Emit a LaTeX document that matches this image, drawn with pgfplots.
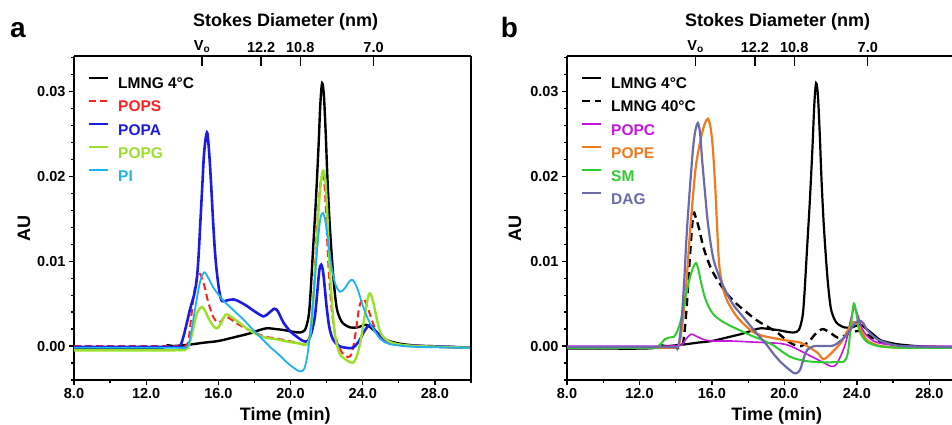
\documentclass[border=0pt]{standalone}
\usepackage{fontspec}
\setmainfont{Liberation Sans}
\usepackage{pgfplots}
\usepackage{pgfplotstable}
\pgfplotsset{compat=1.18}

\definecolor{popsred}{HTML}{FF2020}
\definecolor{popablue}{HTML}{1C1CE0}
\definecolor{popggreen}{HTML}{9AE02A}
\definecolor{picyan}{HTML}{1EB1F0}
\definecolor{popcmag}{HTML}{C814E0}
\definecolor{popeorange}{HTML}{F07A1E}
\definecolor{smgreen}{HTML}{2ECC2E}
\definecolor{dagslate}{HTML}{6B6BAA}

% LMNG 4C, same run in both panels
\pgfplotstableread{
t v
8 -0.0003
10 -0.0003
12 -0.0003
12.9 -0.0002
13.2 0.0001
13.5 0.0
14.5 0.0002
15.2 0.0004
16 0.0006
17 0.0011
17.75 0.0015
18.3 0.0019
18.7 0.0021
19.2 0.0020
19.6 0.0019
20.1 0.0017
20.5 0.0016
20.8 0.0019
21.0 0.0035
21.1 0.006
21.25 0.0115
21.4 0.017
21.55 0.0235
21.65 0.0285
21.75 0.031
21.85 0.0295
21.95 0.025
22.05 0.0195
22.18 0.014
22.37 0.0082
22.55 0.0046
22.75 0.0032
22.95 0.0026
23.3 0.0022
23.7 0.0022
24.2 0.0025
24.6 0.0019
25.0 0.0012
25.3 0.0007
25.8 0.0004
26.3 0.0002
27.3 0.0
28.5 -0.0001
30 -0.0002
}\lmngfour

\pgfplotsset{
  chrom/.style={
    scale only axis, height=324pt,
    xmin=8, ymin=-0.004, ymax=0.0342,
    axis x line*=bottom, axis y line*=left,
    axis line style={line width=1.6pt,-},
    tick align=outside, major tick length=5pt, minor tick length=3pt,
    every tick/.style={black, line width=1.3pt},
    xtick={8,12,16,20,24,28}, xticklabels={8.0,12.0,16.0,20.0,24.0,28.0},
    minor xtick={10,14,18,22,26,30},
    ytick={0,0.01,0.02,0.03}, yticklabels={0.00,0.01,0.02,0.03},
    minor ytick={-0.004,-0.002,0.002,0.004,0.006,0.008,0.012,0.014,0.016,0.018,0.022,0.024,0.026,0.028,0.032,0.034},
    scaled y ticks=false,
    tick label style={font=\fontsize{14.5}{16}\selectfont\bfseries},
    xlabel={Time (min)}, ylabel={AU},
    label style={font=\fontsize{18}{20}\selectfont\bfseries},
    legend style={draw=none, fill=none, at={(0,1)}, anchor=north west,
      xshift=14pt, yshift=-20.5pt, inner sep=0pt, row sep=10.8pt,
      font=\fontsize{15.5}{17}\selectfont\bfseries,
      nodes={inner sep=0pt, text height=11.3pt, text depth=0pt},
      /tikz/every odd column/.append style={column sep=9pt}},
    legend cell align=left,
    legend image code/.code={\draw[#1, line width=2pt] (0pt,5.6pt) -- (19pt,5.6pt);},
    every axis plot/.append style={smooth, tension=0.5},
  },
  stokes/.style={
    scale only axis, height=324pt,
    xmin=8, ymin=-0.004, ymax=0.0342,
    axis x line*=top,
    axis line style={line width=1.6pt,-},
    tick align=inside, major tick length=10pt,
    every tick/.style={black, line width=1.3pt},
    xtick={15.1,18.37,20.54,24.6}, xticklabels={V\textsubscript{o},12.2,10.8,7.0},
    ytick=\empty,
    tick label style={font=\fontsize{14.5}{16}\selectfont\bfseries},
    xlabel={Stokes Diameter (nm)},
    label style={font=\fontsize{18}{20}\selectfont\bfseries},
  },
}

\begin{document}
\begin{tikzpicture}
\useasboundingbox (0,0) rectangle (952pt,425pt);

% ---------------- panel a ----------------
\begin{axis}[chrom, at={(74pt,45pt)}, anchor=south west, width=397pt, xmax=30,
  xlabel style={at={([yshift=-36pt]axis description cs:0.532,0)}, anchor=center},
  ylabel style={at={([xshift=-50pt]axis description cs:0,0.469)}, anchor=center}]
\addplot[black, line width=2.4pt] table {\lmngfour};
\addlegendentry{LMNG 4°C}
\addplot[popsred, line width=2pt, dash pattern=on 7pt off 4pt] coordinates {
(8,0.0) (13.5,0.0) (14.2,0.0) (14.35,0.0008) (14.5,0.0035) (14.65,0.0062) (14.8,0.0080) (14.95,0.0086) (15.1,0.0080) (15.26,0.0068) (15.4,0.0055) (15.55,0.0044) (15.75,0.0033) (15.95,0.0028) (16.15,0.0029) (16.37,0.0035) (16.6,0.0033) (17.0,0.0027) (17.5,0.0021) (18.1,0.0015) (18.6,0.0011) (19.2,0.0009) (19.9,0.0006) (20.5,0.0003) (20.95,0.0003) (21.15,0.0025) (21.3,0.0070) (21.45,0.0133) (21.6,0.0180) (21.7,0.0198) (21.8,0.0200) (21.9,0.0185) (22.0,0.0140) (22.1,0.0095) (22.25,0.0050) (22.4,0.0022) (22.6,0.0003) (22.9,-0.0009) (23.2,-0.0013) (23.4,-0.0008) (23.6,0.0015) (23.8,0.0045) (24.0,0.0056) (24.2,0.0050) (24.5,0.0031) (24.8,0.0015) (25.13,0.0007) (25.6,0.0003) (26.5,0.0001) (28,0.0) (30,-0.0002)};
\addlegendentry{\textcolor{popsred}{POPS}}
\addplot[popablue, line width=2.6pt] coordinates {
(8,-0.0001) (13.5,-0.0001) (13.85,-0.0001) (14.05,0.0010) (14.25,0.0027) (14.45,0.0045) (14.65,0.006) (14.8,0.0078) (14.9,0.0105) (15.0,0.0145) (15.1,0.0185) (15.2,0.0225) (15.3,0.0245) (15.39,0.0251) (15.5,0.0225) (15.6,0.019) (15.7,0.015) (15.8,0.0115) (15.9,0.0090) (16.05,0.0065) (16.2,0.0053) (16.5,0.0054) (16.85,0.0055) (17.2,0.0052) (17.6,0.0047) (18.0,0.0041) (18.5,0.0035) (18.8,0.0039) (19.1,0.0044) (19.3,0.0041) (19.6,0.0028) (20.0,0.0017) (20.35,0.0011) (20.7,0.0006) (20.95,0.0006) (21.15,0.0015) (21.35,0.0035) (21.5,0.0068) (21.6,0.0090) (21.7,0.0096) (21.8,0.0088) (21.9,0.0068) (22.0,0.0046) (22.15,0.0022) (22.35,0.0008) (22.7,0.0000) (23.1,-0.0002) (23.45,-0.0002) (23.8,0.0006) (24.1,0.0018) (24.4,0.0025) (24.7,0.0018) (25.1,0.0010) (25.5,0.0005) (26.2,0.0001) (27.5,0.0) (29,-0.0001) (30,-0.0002)};
\addlegendentry{\textcolor{popablue}{POPA}}
\addplot[popggreen, line width=2.4pt] coordinates {
(8,-0.0005) (13.5,-0.0005) (14.2,-0.0004) (14.4,0.0003) (14.6,0.0020) (14.8,0.0038) (15.0,0.0045) (15.1,0.0046) (15.25,0.0042) (15.5,0.0031) (15.75,0.0023) (15.95,0.0021) (16.15,0.0027) (16.4,0.0037) (16.6,0.0036) (17.0,0.0030) (17.5,0.0022) (18.1,0.0014) (18.6,0.0010) (19.2,0.0008) (19.9,0.0005) (20.5,0.0003) (20.9,0.0002) (21.1,0.0015) (21.3,0.0065) (21.45,0.0120) (21.6,0.0175) (21.75,0.0203) (21.85,0.0206) (21.95,0.0190) (22.05,0.0150) (22.15,0.0100) (22.3,0.0050) (22.45,0.0015) (22.7,-0.0008) (23.0,-0.0015) (23.3,-0.0019) (23.5,-0.0019) (23.7,-0.0010) (23.9,0.0008) (24.1,0.0035) (24.3,0.0058) (24.43,0.0062) (24.6,0.0050) (24.8,0.0030) (25.0,0.0015) (25.4,0.0006) (26,0.0002) (27,0.0) (30,-0.0002)};
\addlegendentry{\textcolor{popggreen}{POPG}}
\addplot[picyan, line width=1.8pt] coordinates {
(8,-0.0002) (13.5,-0.0002) (14.2,-0.0002) (14.4,0.0006) (14.6,0.0030) (14.8,0.0055) (15.0,0.0077) (15.22,0.0087) (15.45,0.0080) (15.75,0.0068) (16.0,0.0061) (16.3,0.0053) (16.8,0.0043) (17.4,0.0031) (17.93,0.0019) (18.4,0.0009) (18.86,-0.0001) (19.3,-0.0009) (19.78,-0.0019) (20.2,-0.0026) (20.52,-0.0030) (20.75,-0.0027) (20.9,-0.0015) (21.05,0.0008) (21.2,0.0040) (21.35,0.0080) (21.5,0.0120) (21.65,0.0150) (21.8,0.0157) (21.95,0.0145) (22.1,0.0120) (22.3,0.0090) (22.5,0.0072) (22.74,0.0064) (23.0,0.0068) (23.25,0.0076) (23.44,0.0078) (23.7,0.0068) (24.03,0.0046) (24.4,0.0027) (24.95,0.0009) (25.4,0.0003) (25.88,0.0001) (27,-0.0001) (30,-0.0002)};
\addlegendentry{\textcolor{picyan}{PI}}
\end{axis}
\begin{axis}[stokes, at={(74pt,45pt)}, anchor=south west, width=397pt, xmax=30,
  axis y line*=right,
  xlabel style={at={([yshift=34pt]axis description cs:0.533,1)}, anchor=center}]
\end{axis}

% ---------------- panel b ----------------
\begin{axis}[chrom, at={(567pt,45pt)}, anchor=south west, width=385pt, xmax=29.25,
  xlabel style={at={([yshift=-36pt]axis description cs:0.545,0)}, anchor=center},
  ylabel style={at={([xshift=-52pt]axis description cs:0,0.469)}, anchor=center}]
\addplot[black, line width=2.2pt] table {\lmngfour};
\addlegendentry{LMNG 4°C}
\addplot[black, line width=2.4pt, dash pattern=on 8pt off 5pt] coordinates {
(8,-0.0002) (13.5,-0.0002) (14.3,-0.0001) (14.45,0.0010) (14.6,0.0045) (14.75,0.0095) (14.9,0.0140) (15.0,0.0157) (15.1,0.0152) (15.27,0.0140) (15.55,0.0115) (15.92,0.0093) (16.3,0.0078) (16.85,0.0061) (17.4,0.0049) (17.96,0.0039) (18.5,0.0030) (19.06,0.0023) (19.6,0.0016) (20.17,0.0006) (20.6,0.0001) (20.9,0.0000) (21.3,0.0004) (21.7,0.0014) (22.1,0.0020) (22.5,0.0016) (22.94,0.0010) (23.3,0.0012) (23.68,0.0016) (24.2,0.0018) (24.6,0.0013) (25.0,0.0008) (25.5,0.0004) (26.5,0.0001) (27.4,-0.0001) (29.3,-0.0002)};
\addlegendentry{LMNG 40°C}
\addplot[popcmag, line width=1.6pt] coordinates {
(8,0.0) (13.5,0.0) (14.3,0.0001) (14.55,0.0008) (14.85,0.0014) (15.1,0.0012) (15.5,0.0008) (16.0,0.0006) (17.0,0.0006) (18.0,0.0005) (19.0,0.0004) (19.8,0.0003) (20.2,0.0001) (20.55,-0.0002) (21.1,-0.0008) (21.65,-0.0014) (22.2,-0.0020) (22.6,-0.0024) (22.85,-0.0022) (23.1,-0.0012) (23.4,0.0005) (23.65,0.0030) (23.86,0.0045) (24.05,0.0036) (24.3,0.0020) (24.7,0.0009) (25.16,0.0004) (26,0.0001) (27,0.0) (29.3,0.0)};
\addlegendentry{\textcolor{popcmag}{POPC}}
\addplot[popeorange, line width=2.2pt] coordinates {
(8,-0.0002) (13.5,-0.0002) (14.1,-0.0001) (14.3,0.0015) (14.54,0.0061) (14.81,0.0140) (15.09,0.0208) (15.37,0.0243) (15.6,0.0262) (15.78,0.0268) (15.92,0.0258) (16.05,0.0233) (16.2,0.0180) (16.38,0.0101) (16.55,0.0075) (16.75,0.0058) (17.0,0.0047) (17.4,0.0034) (17.9,0.0023) (18.32,0.0016) (18.8,0.0012) (19.25,0.0010) (20.0,0.0007) (20.9,0.0004) (21.4,-0.0002) (21.83,-0.0008) (22.11,-0.0015) (22.3,-0.0014) (22.7,-0.0006) (23.12,0.0004) (23.45,0.0017) (23.77,0.0028) (24.0,0.0027) (24.14,0.0022) (24.4,0.0012) (24.6,0.0006) (25.0,0.0002) (25.34,0.0) (26.5,-0.0002) (29.3,-0.0002)};
\addlegendentry{\textcolor{popeorange}{POPE}}
\addplot[smgreen, line width=2pt] coordinates {
(8,-0.0002) (12.8,-0.0002) (13.1,0.0001) (13.4,0.0008) (13.6,0.0010) (13.9,0.0011) (14.1,0.0018) (14.3,0.0032) (14.54,0.0057) (14.75,0.0078) (14.95,0.0092) (15.12,0.0098) (15.25,0.0090) (15.4,0.0075) (15.6,0.0058) (15.8,0.0047) (16.1,0.0037) (16.5,0.0030) (17.0,0.0024) (17.6,0.0018) (18.2,0.0012) (18.7,0.0008) (19.1,0.0004) (19.45,0.0000) (19.9,-0.0007) (20.35,-0.0013) (20.8,-0.0016) (21.3,-0.0018) (22.0,-0.0019) (22.75,-0.0019) (23.3,-0.0018) (23.5,-0.0008) (23.65,0.0020) (23.83,0.0050) (24.0,0.0035) (24.14,0.0018) (24.5,0.0006) (25.16,0.0) (26.4,-0.0002) (29.3,-0.0002)};
\addlegendentry{\textcolor{smgreen}{SM}}
\addplot[dagslate, line width=2.2pt] coordinates {
(8,-0.0001) (13.5,-0.0001) (14.1,-0.0001) (14.3,0.0025) (14.45,0.0070) (14.63,0.0140) (14.9,0.0219) (15.05,0.0250) (15.22,0.0263) (15.35,0.0250) (15.46,0.0219) (15.6,0.0185) (15.74,0.0152) (15.9,0.0125) (16.1,0.0101) (16.45,0.0079) (16.85,0.0061) (17.2,0.0048) (17.58,0.0038) (18.0,0.0027) (18.51,0.0014) (19.0,0.0002) (19.43,-0.0010) (19.8,-0.0019) (20.17,-0.0026) (20.54,-0.0032) (20.75,-0.0031) (20.9,-0.0026) (21.1,-0.0012) (21.28,-0.0004) (21.65,0.0000) (22.2,0.0000) (22.75,0.0001) (23.3,0.0010) (23.6,0.0018) (23.86,0.0026) (24.14,0.0030) (24.35,0.0027) (24.6,0.0018) (25.0,0.0010) (25.34,0.0006) (26.45,0.0) (29.3,-0.0001)};
\addlegendentry{\textcolor{dagslate}{DAG}}
\end{axis}
\begin{axis}[stokes, at={(567pt,45pt)}, anchor=south west, width=385pt, xmax=29.25,
  axis y line=none,
  xlabel style={at={([yshift=34pt]axis description cs:0.547,1)}, anchor=center}]
\end{axis}

\node[font=\fontsize{28}{30}\selectfont\bfseries] at (18pt,394.5pt) {a};
\node[font=\fontsize{28}{30}\selectfont\bfseries] at (509.5pt,397.5pt) {b};
\end{tikzpicture}
\end{document}
